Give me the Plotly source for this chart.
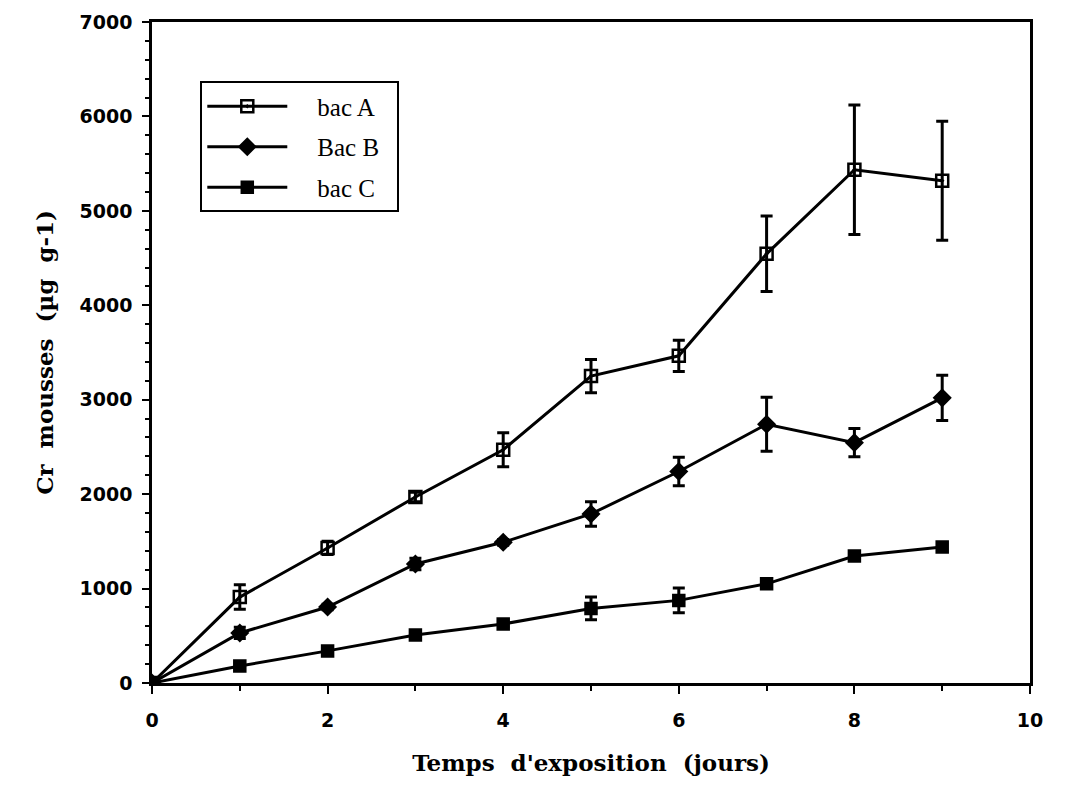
import plotly.graph_objects as go

jours = [0, 1, 2, 3, 4, 5, 6, 7, 8, 9]

bac_a = [0, 910, 1430, 1970, 2470, 3250, 3465, 4545, 5435, 5320]
bac_a_err = [0, 130, 70, 50, 180, 175, 165, 400, 685, 630]

bac_b = [0, 530, 805, 1260, 1490, 1790, 2240, 2740, 2545, 3020]
bac_b_err = [0, 60, 30, 60, 30, 130, 150, 285, 150, 240]

bac_c = [0, 180, 340, 508, 625, 790, 875, 1050, 1345, 1440]
bac_c_err = [0, 30, 25, 30, 30, 120, 130, 30, 30, 40]

x_ticks = [0, 2, 4, 6, 8, 10]
y_ticks = [0, 1000, 2000, 3000, 4000, 5000, 6000, 7000]

series = [
    ("bac A", bac_a, bac_a_err, "square-open-dot", 12),
    ("Bac B", bac_b, bac_b_err, "diamond", 12),
    ("bac C", bac_c, bac_c_err, "square", 11),
]

fig = go.Figure()
for name, vals, errs, sym, size in series:
    fig.add_trace(go.Scatter(
        x=jours, y=vals, name="\u00a0\u00a0\u00a0\u00a0" + name + "\u00a0\u00a0",
        mode="lines+markers",
        legendgroup=name,
        line=dict(color="black", width=3),
        marker=dict(symbol=sym, size=size, color="black",
                    line=dict(color="black", width=2.5)),
        error_y=dict(type="data", array=errs, visible=True,
                     color="black", thickness=3, width=6),
    ))

serif = "DejaVu Serif"
tickfont = dict(family="DejaVu Sans", size=19, color="black", weight="bold")

fig.update_layout(
    width=1072, height=790,
    margin=dict(l=144, r=50, t=14, b=115),
    paper_bgcolor="white", plot_bgcolor="white",
    font=dict(family=serif, color="black", size=18),
    showlegend=True,
    legend=dict(
        x=0.055, y=0.91, xanchor="left", yanchor="top",
        bordercolor="black", borderwidth=2, bgcolor="white",
        font=dict(family="Liberation Serif", size=25, color="black"),
        itemwidth=80, tracegroupgap=5,
    ),
    xaxis=dict(
        range=[0, 10], tickvals=x_ticks, ticktext=[str(v) for v in x_ticks],
        showgrid=False, zeroline=False, automargin=False,
        showline=True, linecolor="black", linewidth=2.5, mirror=True,
        ticks="outside", ticklen=8, tickwidth=2, tickcolor="black",
        ticklabelstandoff=10,
        minor=dict(dtick=1, ticks="outside", ticklen=5, tickwidth=2, tickcolor="black"),
        tickfont=tickfont,
        title=dict(text="<b>Temps  d'exposition  (jours)</b>", standoff=26,
                   font=dict(family=serif, size=23, color="black")),
    ),
    yaxis=dict(
        range=[0, 7000], tickvals=y_ticks, ticktext=[str(v) for v in y_ticks],
        showgrid=False, zeroline=False, automargin=False,
        showline=True, linecolor="black", linewidth=2.5, mirror=True,
        ticks="outside", ticklen=7, tickwidth=2, tickcolor="black",
        ticklabelstandoff=6,
        minor=dict(dtick=200, ticks="outside", ticklen=4, tickwidth=2, tickcolor="black"),
        tickfont=tickfont,
        title=dict(text="<b>Cr  mousses  (µg  g-1)</b>", standoff=20,
                   font=dict(family=serif, size=23, color="black")),
    ),
)

fig.write_html("out.html")
